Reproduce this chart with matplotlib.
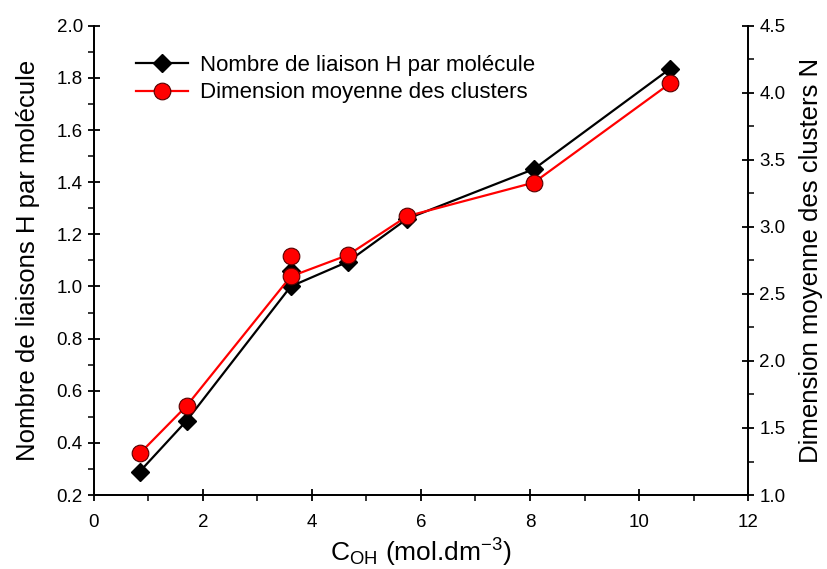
import matplotlib.pyplot as plt
from matplotlib.ticker import MultipleLocator

plt.rcParams["font.family"] = ["Liberation Sans", "DejaVu Sans"]
plt.rcParams["mathtext.default"] = "regular"

# concentration of OH groups (mol.dm-3)
c_oh = [0.84, 1.70, 3.61, 4.66, 5.75, 8.07, 10.57]
# hydrogen bonds per molecule (left axis)
liaisons_h = [0.29, 0.485, 1.0, 1.095, 1.26, 1.45, 1.835]
# mean cluster size N (right axis)
taille_clusters = [1.31, 1.665, 2.63, 2.79, 3.08, 3.33, 4.07]

# second measurement at the same concentration, drawn as markers only
c_oh_extra = [3.61]
liaisons_h_extra = [1.06]
taille_clusters_extra = [2.78]

fig = plt.figure(figsize=(8.28, 5.69), dpi=100)
ax = fig.add_axes([0.1135, 0.130, 0.7899, 0.8248])
ax2 = ax.twinx()

line_black, = ax.plot(c_oh, liaisons_h, color="black", lw=1.6, marker="D",
                      ms=9, mfc="black", mec="black",
                      label="Nombre de liaison H par molécule")
ax.plot(c_oh_extra, liaisons_h_extra, ls="none", marker="D", ms=9,
        mfc="black", mec="black")

line_red, = ax2.plot(c_oh, taille_clusters, color="red", lw=1.6, marker="o",
                     ms=12, mfc="red", mec="#550000", mew=0.8,
                     label="Dimension moyenne des clusters")
ax2.plot(c_oh_extra, taille_clusters_extra, ls="none", marker="o", ms=12,
         mfc="red", mec="#550000", mew=0.8)

ax.set_xlim(0, 12)
ax.set_ylim(0.2, 2.0)
ax2.set_ylim(1.0, 4.5)

ax.xaxis.set_major_locator(MultipleLocator(2))
ax.xaxis.set_minor_locator(MultipleLocator(1))
ax.yaxis.set_major_locator(MultipleLocator(0.2))
ax.yaxis.set_minor_locator(MultipleLocator(0.1))
ax2.yaxis.set_major_locator(MultipleLocator(0.5))
ax2.yaxis.set_minor_locator(MultipleLocator(0.25))
ax.yaxis.set_major_formatter(plt.FormatStrFormatter("%.1f"))
ax2.yaxis.set_major_formatter(plt.FormatStrFormatter("%.1f"))

for a in (ax, ax2):
    a.spines["top"].set_visible(False)
    for s in a.spines.values():
        s.set_linewidth(1.3)
    a.tick_params(which="major", direction="inout", length=9, width=1.3,
                  labelsize=13.5)
    a.tick_params(which="minor", direction="out", length=4, width=1.1)
ax.tick_params(axis="x", which="major", pad=9)

ax.set_xlabel(r"C$_{OH}$ (mol.dm$^{-3}$)", fontsize=19, labelpad=4)
ax.set_ylabel("Nombre de liaisons H par molécule", fontsize=18.5, labelpad=12)
ax2.set_ylabel("Dimension moyenne des clusters N", fontsize=18.5, labelpad=10)

ax.legend(handles=[line_black, line_red], loc="upper left",
          bbox_to_anchor=(0.051, 0.956), frameon=False, fontsize=16,
          handlelength=2.35, handletextpad=0.5, labelspacing=0.28,
          borderaxespad=0)

fig.savefig("out.png", dpi=100)
